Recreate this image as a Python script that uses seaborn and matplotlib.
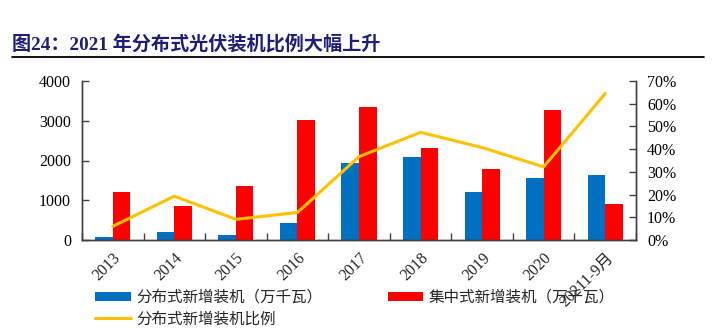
import matplotlib
matplotlib.use("Agg")
import matplotlib.pyplot as plt
import seaborn as sns
import numpy as np
import pandas as pd
from matplotlib.patches import Patch
from matplotlib.lines import Line2D

years = ["2013", "2014", "2015", "2016", "2017", "2018", "2019", "2020", "20211-9月"]
distributed = [75, 200, 133, 417, 1925, 2083, 1208, 1550, 1633]
centralized = [1200, 850, 1358, 3017, 3342, 2317, 1783, 3258, 908]
ratio_pct = [6.0, 19.3, 9.1, 12.1, 36.7, 47.4, 40.7, 32.2, 64.5]

s_dist = "分布式新增装机（万千瓦）"
s_cent = "集中式新增装机（万千瓦）"
s_ratio = "分布式新增装机比例"
title = "图24：2021 年分布式光伏装机比例大幅上升"

BLUE = "#0070C0"
RED = "#FF0000"
YELLOW = "#FFC000"
AXC = "#404040"

sns.set_theme(style="white")
plt.rcParams["font.family"] = ["Liberation Serif", "Noto Sans CJK SC", "DejaVu Sans"]

df = pd.DataFrame({
    "year": years * 2,
    "series": [s_dist] * len(years) + [s_cent] * len(years),
    "value": distributed + centralized,
})

fig = plt.figure(figsize=(7.17, 3.30), dpi=100)
ax = fig.add_axes([82 / 717, 1 - 240 / 330, (636 - 82) / 717, (240 - 81) / 330])
sns.barplot(data=df, x="year", y="value", hue="series", order=years,
            hue_order=[s_dist, s_cent], palette=[BLUE, RED], width=0.57,
            saturation=1, ax=ax, legend=False, linewidth=0)
ax.set_ylim(0, 4000)
ax.set_yticks([0, 1000, 2000, 3000, 4000])
ax.set_xlim(-0.5, len(years) - 0.5)
ax.set_xlabel("")
ax.set_ylabel("")

ax2 = ax.twinx()
sns.lineplot(x=np.arange(len(years)), y=ratio_pct, ax=ax2, color=YELLOW,
             linewidth=2.2, sort=False)
ax2.set_ylim(0, 70)
ax2.set_yticks(range(0, 71, 10))
ax2.set_yticklabels([f"{v}%" for v in range(0, 71, 10)])
ax2.set_ylabel("")
ax.set_xlim(-0.5, len(years) - 0.5)

for a in (ax, ax2):
    for sp in a.spines.values():
        sp.set_color(AXC)
        sp.set_linewidth(1.0)
    a.spines["top"].set_visible(False)
    a.grid(False)

ax.tick_params(axis="y", direction="in", length=5, width=1, color=AXC,
               labelsize=11.5, labelcolor="black", pad=8)
ax2.tick_params(axis="y", direction="in", length=5, width=1, color=AXC,
                labelsize=11.5, labelcolor="black", pad=8)

ax.set_xticks(np.arange(len(years)))
ax.set_xticklabels(years, rotation=45, ha="right", rotation_mode="anchor")
ax.set_xticks(np.arange(len(years) + 1) - 0.5, minor=True)
ax.tick_params(axis="x", which="major", length=0, labelsize=11.5, pad=7)
ax.tick_params(axis="x", which="minor", direction="in", length=5, width=1,
               color=AXC, bottom=True)

fig.text(12 / 717, 1 - 45 / 330, title, fontsize=13.8, fontweight="bold",
         color="#1E1E78", va="center", ha="left")
fig.add_artist(Line2D([12 / 717, 704 / 717], [1 - 57 / 330, 1 - 57 / 330],
                      transform=fig.transFigure, color="black", linewidth=1.3))

handles = [Patch(facecolor=BLUE, edgecolor="none"),
           Line2D([], [], color=YELLOW, linewidth=2.2),
           Patch(facecolor=RED, edgecolor="none")]
labels = [s_dist, s_ratio, s_cent]
fig.legend(handles, labels, ncol=2, loc="upper left",
           bbox_to_anchor=(95 / 717, 1 - 289 / 330), frameon=False,
           borderaxespad=0, borderpad=0, handlelength=2.3, handleheight=0.6,
           handletextpad=0.35, columnspacing=4.2, labelspacing=0.3,
           prop={"family": ["Noto Sans CJK SC"], "size": 11.2})

fig.savefig("out.png", dpi=100)
